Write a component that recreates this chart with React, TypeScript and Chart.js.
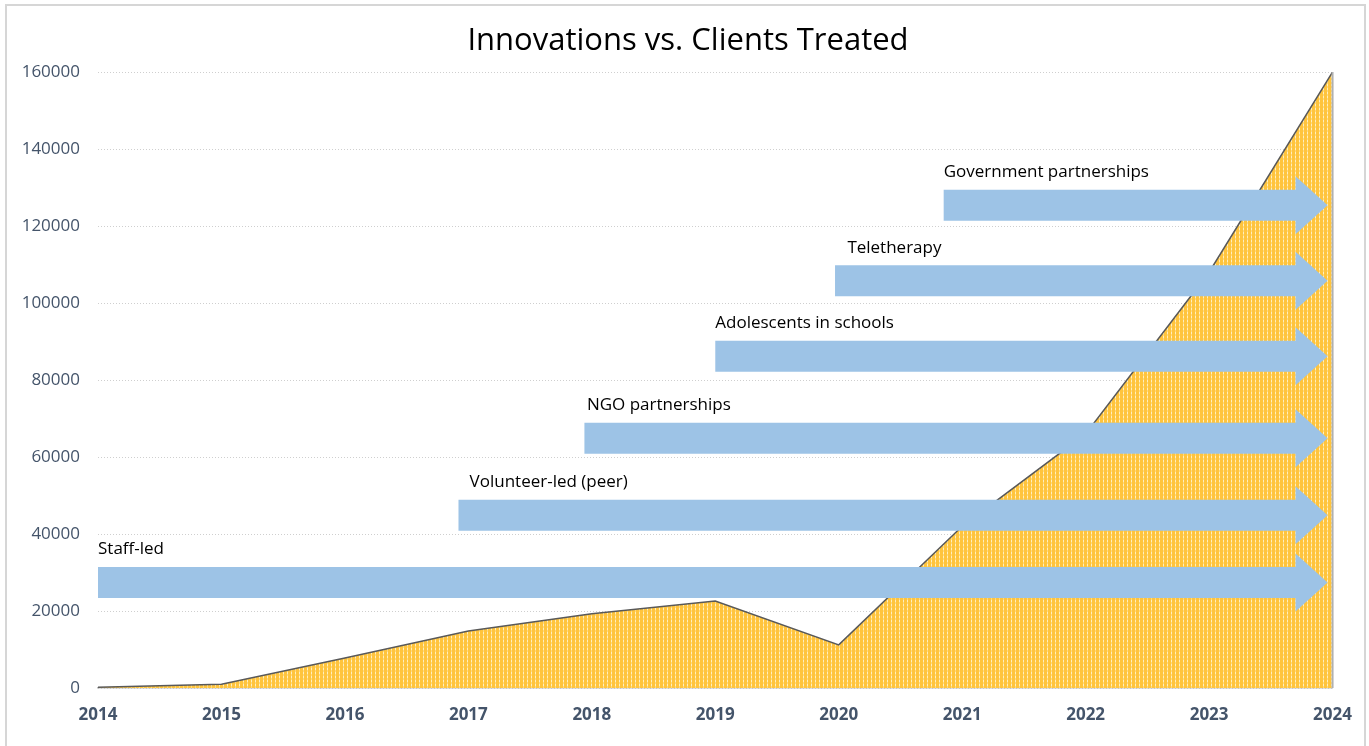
import React, { useEffect, useRef } from "react";
import { Chart, registerables } from "chart.js";

Chart.register(...registerables);

const TITLE = "Innovations vs. Clients Treated";
const YEARS = [2014, 2015, 2016, 2017, 2018, 2019, 2020, 2021, 2022, 2023, 2024];
const CLIENTS_TREATED = [200, 1000, 7800, 14800, 19300, 22600, 11200, 42000, 66000, 108000, 160000];
const Y_TICKS = [0, 20000, 40000, 60000, 80000, 100000, 120000, 140000, 160000];

const INNOVATIONS = [
  "Staff-led",
  "Volunteer-led (peer)",
  "NGO partnerships",
  "Adolescents in schools",
  "Teletherapy",
  "Government partnerships",
];
const INNOVATION_START = [2014, 2016.92, 2017.94, 2019.0, 2019.97, 2020.85];
const INNOVATION_LABEL_START = [2014, 2017.01, 2017.96, 2019.0, 2020.07, 2020.85];
const INNOVATION_LEVEL = [27400, 44900, 64900, 86200, 105800, 125400];
const INNOVATION_END = 2024;

const FONT = "'Open Sans', 'Noto Sans', sans-serif";
const AXIS_COLOR = "#44546A";
const ARROW_COLOR = "#9DC3E6";

export default function App() {
  const ref = useRef<HTMLCanvasElement | null>(null);

  useEffect(() => {
    const canvas = ref.current;
    if (!canvas) return;
    const ctx = canvas.getContext("2d")!;

    const pc = document.createElement("canvas");
    pc.width = 4;
    pc.height = 4;
    const p = pc.getContext("2d")!;
    p.fillStyle = "#FFC43D";
    p.fillRect(0, 0, 4, 4);
    p.fillStyle = "#FFEFC0";
    p.fillRect(3, 0, 1, 2);
    p.fillStyle = "#FFDA7E";
    p.fillRect(3, 2, 1, 2);
    const pattern = ctx.createPattern(pc, "repeat")!;

    const framePlugin = {
      id: "frame",
      beforeDraw(chart: any) {
        const c = chart.ctx;
        c.save();
        c.fillStyle = "#ffffff";
        c.fillRect(0, 0, chart.width, chart.height);
        c.strokeStyle = "#d6d6d6";
        c.lineWidth = 2;
        c.strokeRect(6, 5, chart.width - 10, chart.height);
        c.fillStyle = "#000000";
        c.font = `31px ${FONT}`;
        c.textAlign = "center";
        c.textBaseline = "middle";
        c.fillText(TITLE, 688, 41);
        c.restore();
      },
    };

    const arrowsPlugin = {
      id: "arrows",
      afterDatasetsDraw(chart: any) {
        const c = chart.ctx;
        const xs = chart.scales.x;
        const ys = chart.scales.y;
        c.save();
        const xr = xs.getPixelForValue(YEARS[YEARS.length - 1]);
        c.strokeStyle = "#b0b0b0";
        c.lineWidth = 2;
        c.beginPath();
        c.moveTo(xr, ys.getPixelForValue(CLIENTS_TREATED[CLIENTS_TREATED.length - 1]));
        c.lineTo(xr, ys.getPixelForValue(0));
        c.stroke();

        const bh = 15.5;
        const hh = 29;
        const hl = 32;
        for (let i = 0; i < INNOVATIONS.length; i++) {
          const x0 = xs.getPixelForValue(INNOVATION_START[i]);
          const xt = xs.getPixelForValue(INNOVATION_END) - 5;
          const yc = ys.getPixelForValue(INNOVATION_LEVEL[i]);
          c.fillStyle = ARROW_COLOR;
          c.beginPath();
          c.moveTo(x0, yc - bh);
          c.lineTo(xt - hl, yc - bh);
          c.lineTo(xt - hl, yc - hh);
          c.lineTo(xt, yc);
          c.lineTo(xt - hl, yc + hh);
          c.lineTo(xt - hl, yc + bh);
          c.lineTo(x0, yc + bh);
          c.closePath();
          c.fill();

          c.fillStyle = "#000000";
          c.font = `17px ${FONT}`;
          c.textAlign = "left";
          c.textBaseline = "middle";
          c.fillText(INNOVATIONS[i], xs.getPixelForValue(INNOVATION_LABEL_START[i]), yc - 33);
        }
        c.restore();
      },
    };

    const chart = new Chart(ctx, {
      type: "line",
      data: {
        datasets: [
          {
            label: "Clients treated",
            data: YEARS.map((y, i) => ({ x: y, y: CLIENTS_TREATED[i] })),
            borderColor: "#595959",
            borderWidth: 1.5,
            backgroundColor: pattern,
            fill: "origin",
            pointRadius: 0,
            tension: 0,
          },
        ],
      },
      options: {
        responsive: false,
        animation: false,
        layout: { padding: { left: 0, right: 36, top: 72, bottom: 3.6 } },
        plugins: {
          legend: { display: false },
          tooltip: { enabled: false },
          title: { display: false },
        },
        scales: {
          x: {
            type: "linear",
            min: YEARS[0],
            max: YEARS[YEARS.length - 1],
            afterBuildTicks: (scale: any) => {
              scale.ticks = YEARS.map((v) => ({ value: v }));
            },
            ticks: {
              color: AXIS_COLOR,
              font: { size: 17, family: FONT, weight: "bold" },
              padding: 17,
              maxRotation: 0,
              autoSkip: false,
              callback: (v: any) => String(v),
            },
            grid: { display: false, drawTicks: false },
            border: { display: true, color: "#bfbfbf", width: 1.5 },
          },
          y: {
            type: "linear",
            min: 0,
            max: 160000,
            afterBuildTicks: (scale: any) => {
              scale.ticks = Y_TICKS.map((v) => ({ value: v }));
            },
            afterFit: (scale: any) => {
              scale.width = 98;
            },
            ticks: {
              color: AXIS_COLOR,
              font: { size: 17, family: FONT },
              padding: 18,
              callback: (v: any) => String(v),
            },
            grid: { color: "#cfcfcf", lineWidth: 1, drawTicks: false },
            border: { display: false, dash: [1, 2] },
          },
        },
      },
      plugins: [framePlugin, arrowsPlugin],
    });

    return () => chart.destroy();
  }, []);

  return (
    <div style={{ position: "absolute", left: 0, top: 0, width: 1369, height: 746 }}>
      <canvas ref={ref} width={1369} height={746} style={{ display: "block" }} />
    </div>
  );
}
